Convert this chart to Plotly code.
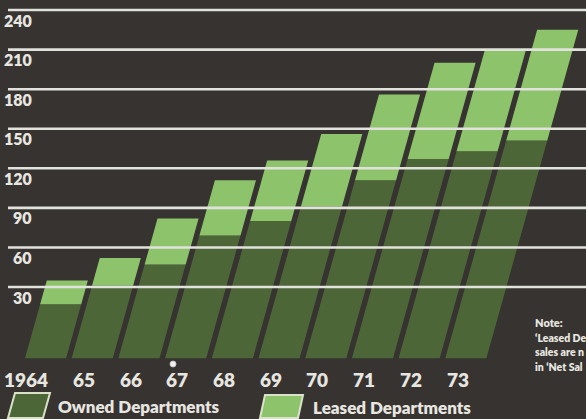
import plotly.graph_objects as go

# Net sales by year, split into owned and leased departments
years = ["1964", "65", "66", "67", "68", "69", "70", "71", "72", "73"]
owned = [17, 31, 47, 69, 80, 91, 111, 127, 133, 141]
leased = [18, 21, 35, 42, 46, 55, 65, 73, 76, 84]
grid_values = [30, 60, 90, 120, 150, 180, 210, 240]
grid_labels = ["30", "60", "90", "120", "150", "180", "210", "240"]

W, H = 586, 419
BG = "#363331"
OWNED_C = "#4d6637"
LEASED_C = "#8dc46b"
TEXT_C = "#e8e6e0"
FONT = "Lato"

FLOOR = -24          # front edge of the leaning bars
BAR_W = 0.88         # bar width in category units
LEAN = 0.0079        # horizontal shift per value unit (bars lean right)


def px_x(p):
    return p / W


def px_y(p):
    return 1 - p / H


def segment_polys(bases, tops):
    xs, ys = [], []
    for i, (b, t) in enumerate(zip(bases, tops)):
        xb = i + LEAN * (b - FLOOR)
        xt = i + LEAN * (t - FLOOR)
        xs += [xb, xb + BAR_W, xt + BAR_W, xt, xb, None]
        ys += [b, b, t, t, b, None]
    return xs, ys


fig = go.Figure()

floor = [FLOOR] * len(years)
totals = [o + l for o, l in zip(owned, leased)]

ox, oy = segment_polys(floor, owned)
fig.add_trace(go.Scatter(x=ox, y=oy, mode="none", fill="toself",
                         fillcolor=OWNED_C, name="Owned Departments",
                         hoverinfo="skip", showlegend=False))
lx, ly = segment_polys(owned, totals)
fig.add_trace(go.Scatter(x=lx, y=ly, mode="none", fill="toself",
                         fillcolor=LEASED_C, name="Leased Departments",
                         hoverinfo="skip", showlegend=False))

shapes = []
annotations = []

# horizontal rules drawn over the bars, with labels beneath each
for v, lab in zip(grid_values, grid_labels):
    shapes.append(dict(type="line", xref="paper", yref="y",
                       x0=px_x(8), x1=1, y0=v, y1=v, layer="above",
                       line=dict(color="#e2e2dc", width=2.6)))
    annotations.append(dict(text=lab, xref="paper", yref="paper",
                            x=px_x(34), y=0, xanchor="right", yanchor="middle",
                            showarrow=False,
                            font=dict(family=FONT, size=16, color=TEXT_C,
                                      weight=800)))
    # place label 10 px under its rule, via the y axis
    annotations[-1].update(yref="y", y=v, yshift=-10)

# year labels under the bars
for i, yr in enumerate(years):
    annotations.append(dict(text=yr, xref="x", yref="y",
                            x=i + 0.54, y=FLOOR, xanchor="right",
                            yanchor="middle", yshift=-21, showarrow=False,
                            font=dict(family=FONT, size=19, color=TEXT_C,
                                      weight=800)))

# legend swatches (leaning like the bars)
def swatch(x_top, x_bot, y_top, y_bot, w, color):
    path = ("M {a},{b} L {c},{b} L {d},{e} L {f},{e} Z".format(
        a=px_x(x_bot), b=px_y(y_bot), c=px_x(x_bot + w),
        d=px_x(x_top + w), e=px_y(y_top), f=px_x(x_top)))
    return dict(type="path", xref="paper", yref="paper", path=path,
                fillcolor=color, line=dict(color="#d9e2c8", width=2),
                layer="above")


shapes.append(swatch(15, 8, 393, 418, 35, OWNED_C))
shapes.append(swatch(265, 260, 395, 418, 38, LEASED_C))

annotations.append(dict(text="Owned Departments", xref="paper", yref="paper",
                        x=px_x(56), y=px_y(406), xanchor="left",
                        yanchor="middle", showarrow=False,
                        font=dict(family=FONT, size=17, color=TEXT_C,
                                  weight=800)))
annotations.append(dict(text="Leased Departments", xref="paper", yref="paper",
                        x=px_x(311), y=px_y(407), xanchor="left",
                        yanchor="middle", showarrow=False,
                        font=dict(family=FONT, size=17, color=TEXT_C,
                                  weight=800)))

# footnote at the right edge of the page
note_lines = [("Note:", 322, 11),
              ("\u2018Leased De", 338, 10.5),
              ("sales are n", 352, 10.5),
              ("in \u2018Net Sal", 367, 10.5)]
for txt, yy, sz in note_lines:
    annotations.append(dict(text=txt, xref="paper", yref="paper",
                            x=px_x(533), y=px_y(yy), xanchor="left",
                            yanchor="middle", showarrow=False,
                            font=dict(family=FONT, size=sz, color=TEXT_C,
                                      weight=800)))

# small white dot below the axis
shapes.append(dict(type="circle", xref="paper", yref="paper",
                   x0=px_x(170), x1=px_x(176), y0=px_y(367), y1=px_y(361),
                   fillcolor="#f0f0f0", line=dict(color="#c8c8c8", width=1)))

# axes ranges map values onto the page: 0 at 326.6 px, 1.319 px per unit
y_top = 326.6 / 1.319
y_bot = (326.6 - H) / 1.319
x_left = -25 / 46.7
x_right = (W - 25) / 46.7

fig.update_layout(
    width=W, height=H,
    margin=dict(l=0, r=0, t=0, b=0),
    paper_bgcolor=BG, plot_bgcolor=BG,
    xaxis=dict(range=[x_left, x_right], visible=False, fixedrange=True),
    yaxis=dict(range=[y_bot, y_top], visible=False, fixedrange=True),
    shapes=shapes, annotations=annotations,
    showlegend=False,
)

fig.write_html("out.html", config={"displayModeBar": False})
